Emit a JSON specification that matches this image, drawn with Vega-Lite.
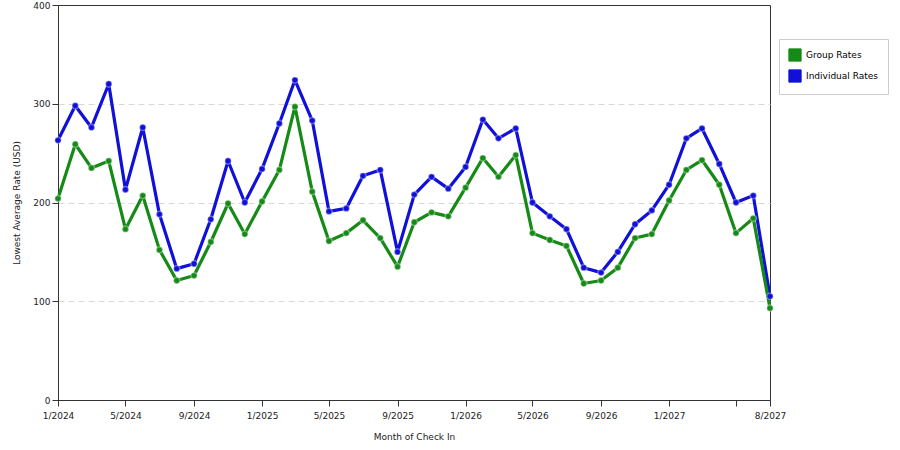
{
  "$schema": "https://vega.github.io/schema/vega-lite/v6.json",
  "width": 712,
  "height": 395,
  "autosize": "none",
  "padding": {"left": 58, "top": 5, "right": 130, "bottom": 50},
  "background": "white",
  "data": {
    "values": [
      {"month": "2024-01-01", "series": "Individual Rates", "rate": 263},
      {"month": "2024-02-01", "series": "Individual Rates", "rate": 298},
      {"month": "2024-03-01", "series": "Individual Rates", "rate": 276},
      {"month": "2024-04-01", "series": "Individual Rates", "rate": 320},
      {"month": "2024-05-01", "series": "Individual Rates", "rate": 213},
      {"month": "2024-06-01", "series": "Individual Rates", "rate": 276},
      {"month": "2024-07-01", "series": "Individual Rates", "rate": 188},
      {"month": "2024-08-01", "series": "Individual Rates", "rate": 133},
      {"month": "2024-09-01", "series": "Individual Rates", "rate": 138},
      {"month": "2024-10-01", "series": "Individual Rates", "rate": 183},
      {"month": "2024-11-01", "series": "Individual Rates", "rate": 242},
      {"month": "2024-12-01", "series": "Individual Rates", "rate": 200},
      {"month": "2025-01-01", "series": "Individual Rates", "rate": 234},
      {"month": "2025-02-01", "series": "Individual Rates", "rate": 280},
      {"month": "2025-03-01", "series": "Individual Rates", "rate": 324},
      {"month": "2025-04-01", "series": "Individual Rates", "rate": 283},
      {"month": "2025-05-01", "series": "Individual Rates", "rate": 191},
      {"month": "2025-06-01", "series": "Individual Rates", "rate": 194},
      {"month": "2025-07-01", "series": "Individual Rates", "rate": 227},
      {"month": "2025-08-01", "series": "Individual Rates", "rate": 233},
      {"month": "2025-09-01", "series": "Individual Rates", "rate": 150},
      {"month": "2025-10-01", "series": "Individual Rates", "rate": 208},
      {"month": "2025-11-01", "series": "Individual Rates", "rate": 226},
      {"month": "2025-12-01", "series": "Individual Rates", "rate": 214},
      {"month": "2026-01-01", "series": "Individual Rates", "rate": 236},
      {"month": "2026-02-01", "series": "Individual Rates", "rate": 284},
      {"month": "2026-03-01", "series": "Individual Rates", "rate": 265},
      {"month": "2026-04-01", "series": "Individual Rates", "rate": 275},
      {"month": "2026-05-01", "series": "Individual Rates", "rate": 200},
      {"month": "2026-06-01", "series": "Individual Rates", "rate": 186},
      {"month": "2026-07-01", "series": "Individual Rates", "rate": 173},
      {"month": "2026-08-01", "series": "Individual Rates", "rate": 134},
      {"month": "2026-09-01", "series": "Individual Rates", "rate": 129},
      {"month": "2026-10-01", "series": "Individual Rates", "rate": 150},
      {"month": "2026-11-01", "series": "Individual Rates", "rate": 178},
      {"month": "2026-12-01", "series": "Individual Rates", "rate": 192},
      {"month": "2027-01-01", "series": "Individual Rates", "rate": 218},
      {"month": "2027-02-01", "series": "Individual Rates", "rate": 265},
      {"month": "2027-03-01", "series": "Individual Rates", "rate": 275},
      {"month": "2027-04-01", "series": "Individual Rates", "rate": 239},
      {"month": "2027-05-01", "series": "Individual Rates", "rate": 200},
      {"month": "2027-06-01", "series": "Individual Rates", "rate": 207},
      {"month": "2027-07-01", "series": "Individual Rates", "rate": 105},
      {"month": "2024-01-01", "series": "Group Rates", "rate": 204},
      {"month": "2024-02-01", "series": "Group Rates", "rate": 259},
      {"month": "2024-03-01", "series": "Group Rates", "rate": 235},
      {"month": "2024-04-01", "series": "Group Rates", "rate": 242},
      {"month": "2024-05-01", "series": "Group Rates", "rate": 173},
      {"month": "2024-06-01", "series": "Group Rates", "rate": 207},
      {"month": "2024-07-01", "series": "Group Rates", "rate": 152},
      {"month": "2024-08-01", "series": "Group Rates", "rate": 121},
      {"month": "2024-09-01", "series": "Group Rates", "rate": 126},
      {"month": "2024-10-01", "series": "Group Rates", "rate": 160},
      {"month": "2024-11-01", "series": "Group Rates", "rate": 199},
      {"month": "2024-12-01", "series": "Group Rates", "rate": 168},
      {"month": "2025-01-01", "series": "Group Rates", "rate": 201},
      {"month": "2025-02-01", "series": "Group Rates", "rate": 233},
      {"month": "2025-03-01", "series": "Group Rates", "rate": 297},
      {"month": "2025-04-01", "series": "Group Rates", "rate": 211},
      {"month": "2025-05-01", "series": "Group Rates", "rate": 161},
      {"month": "2025-06-01", "series": "Group Rates", "rate": 169},
      {"month": "2025-07-01", "series": "Group Rates", "rate": 182},
      {"month": "2025-08-01", "series": "Group Rates", "rate": 164},
      {"month": "2025-09-01", "series": "Group Rates", "rate": 135},
      {"month": "2025-10-01", "series": "Group Rates", "rate": 180},
      {"month": "2025-11-01", "series": "Group Rates", "rate": 190},
      {"month": "2025-12-01", "series": "Group Rates", "rate": 186},
      {"month": "2026-01-01", "series": "Group Rates", "rate": 215},
      {"month": "2026-02-01", "series": "Group Rates", "rate": 245},
      {"month": "2026-03-01", "series": "Group Rates", "rate": 226},
      {"month": "2026-04-01", "series": "Group Rates", "rate": 248},
      {"month": "2026-05-01", "series": "Group Rates", "rate": 169},
      {"month": "2026-06-01", "series": "Group Rates", "rate": 162},
      {"month": "2026-07-01", "series": "Group Rates", "rate": 156},
      {"month": "2026-08-01", "series": "Group Rates", "rate": 118},
      {"month": "2026-09-01", "series": "Group Rates", "rate": 121},
      {"month": "2026-10-01", "series": "Group Rates", "rate": 134},
      {"month": "2026-11-01", "series": "Group Rates", "rate": 164},
      {"month": "2026-12-01", "series": "Group Rates", "rate": 168},
      {"month": "2027-01-01", "series": "Group Rates", "rate": 202},
      {"month": "2027-02-01", "series": "Group Rates", "rate": 233},
      {"month": "2027-03-01", "series": "Group Rates", "rate": 243},
      {"month": "2027-04-01", "series": "Group Rates", "rate": 218},
      {"month": "2027-05-01", "series": "Group Rates", "rate": 169},
      {"month": "2027-06-01", "series": "Group Rates", "rate": 184},
      {"month": "2027-07-01", "series": "Group Rates", "rate": 93}
    ]
  },
  "encoding": {
    "x": {
      "field": "month",
      "type": "temporal",
      "timeUnit": "utcyearmonth",
      "title": "Month of Check In",
      "scale": {"domain": [{"year": 2024, "month": 1, "date": 1, "utc": true}, {"year": 2027, "month": 7, "date": 1, "utc": true}]},
      "axis": {
        "values": [
          {"year": 2024, "month": 1, "date": 1, "utc": true},
          {"year": 2024, "month": 5, "date": 1, "utc": true},
          {"year": 2024, "month": 9, "date": 1, "utc": true},
          {"year": 2025, "month": 1, "date": 1, "utc": true},
          {"year": 2025, "month": 5, "date": 1, "utc": true},
          {"year": 2025, "month": 9, "date": 1, "utc": true},
          {"year": 2026, "month": 1, "date": 1, "utc": true},
          {"year": 2026, "month": 5, "date": 1, "utc": true},
          {"year": 2026, "month": 9, "date": 1, "utc": true},
          {"year": 2027, "month": 1, "date": 1, "utc": true},
          {"year": 2027, "month": 5, "date": 1, "utc": true},
          {"year": 2027, "month": 7, "date": 1, "utc": true}
        ],
        "labelExpr": "utcyear(datum.value) == 2027 && utcmonth(datum.value) == 4 ? '' : (utcyear(datum.value) == 2027 && utcmonth(datum.value) == 6 ? '8/2027' : (utcmonth(datum.value) + 1) + '/' + utcyear(datum.value))",
        "grid": false,
        "labelAngle": 0,
        "labelFlush": false,
        "labelOverlap": false,
        "labelPadding": 5,
        "titlePadding": 12
      }
    },
    "y": {
      "field": "rate",
      "type": "quantitative",
      "title": "Lowest Average Rate (USD)",
      "scale": {"domain": [0, 400], "nice": false},
      "axis": {
        "values": [0, 100, 200, 300, 400],
        "grid": true,
        "gridDash": [6, 4],
        "gridColor": "#d8d8d8",
        "gridOpacity": {"condition": {"test": "datum.value == 0 || datum.value == 400", "value": 0}, "value": 1},
        "titlePadding": 11
      }
    },
    "color": {
      "field": "series",
      "type": "nominal",
      "title": null,
      "scale": {"domain": ["Group Rates", "Individual Rates"], "range": ["#168a16", "#1010d8"]},
      "legend": {
        "orient": "none",
        "legendX": 721,
        "legendY": 34,
        "symbolType": "square",
        "symbolSize": 150,
        "symbolStrokeWidth": 1,
        "symbolOpacity": 1,
        "strokeColor": "#cccccc",
        "padding": 9,
        "rowPadding": 3,
        "labelFontSize": 9,
        "labelFont": "DejaVu Sans",
        "labelLimit": 200,
        "offset": 0
      }
    },
    "order": {"field": "month", "type": "temporal"}
  },
  "layer": [
    {
      "mark": {"type": "line", "strokeWidth": 3.2, "strokeJoin": "round"}
    },
    {
      "mark": {"type": "point", "filled": true, "size": 40, "opacity": 1, "strokeWidth": 1.5, "strokeOpacity": 0.35, "stroke": "#ffffff"}
    }
  ],
  "config": {
    "view": {"stroke": "#333333", "strokeWidth": 1},
    "font": "DejaVu Sans",
    "axis": {
      "domainColor": "#333333",
      "tickColor": "#333333",
      "tickSize": 6,
      "labelFontSize": 9,
      "labelColor": "#222222",
      "titleFontSize": 9,
      "titleFontWeight": "normal",
      "titleColor": "#222222",
      "labelFont": "DejaVu Sans",
      "titleFont": "DejaVu Sans"
    }
  }
}
